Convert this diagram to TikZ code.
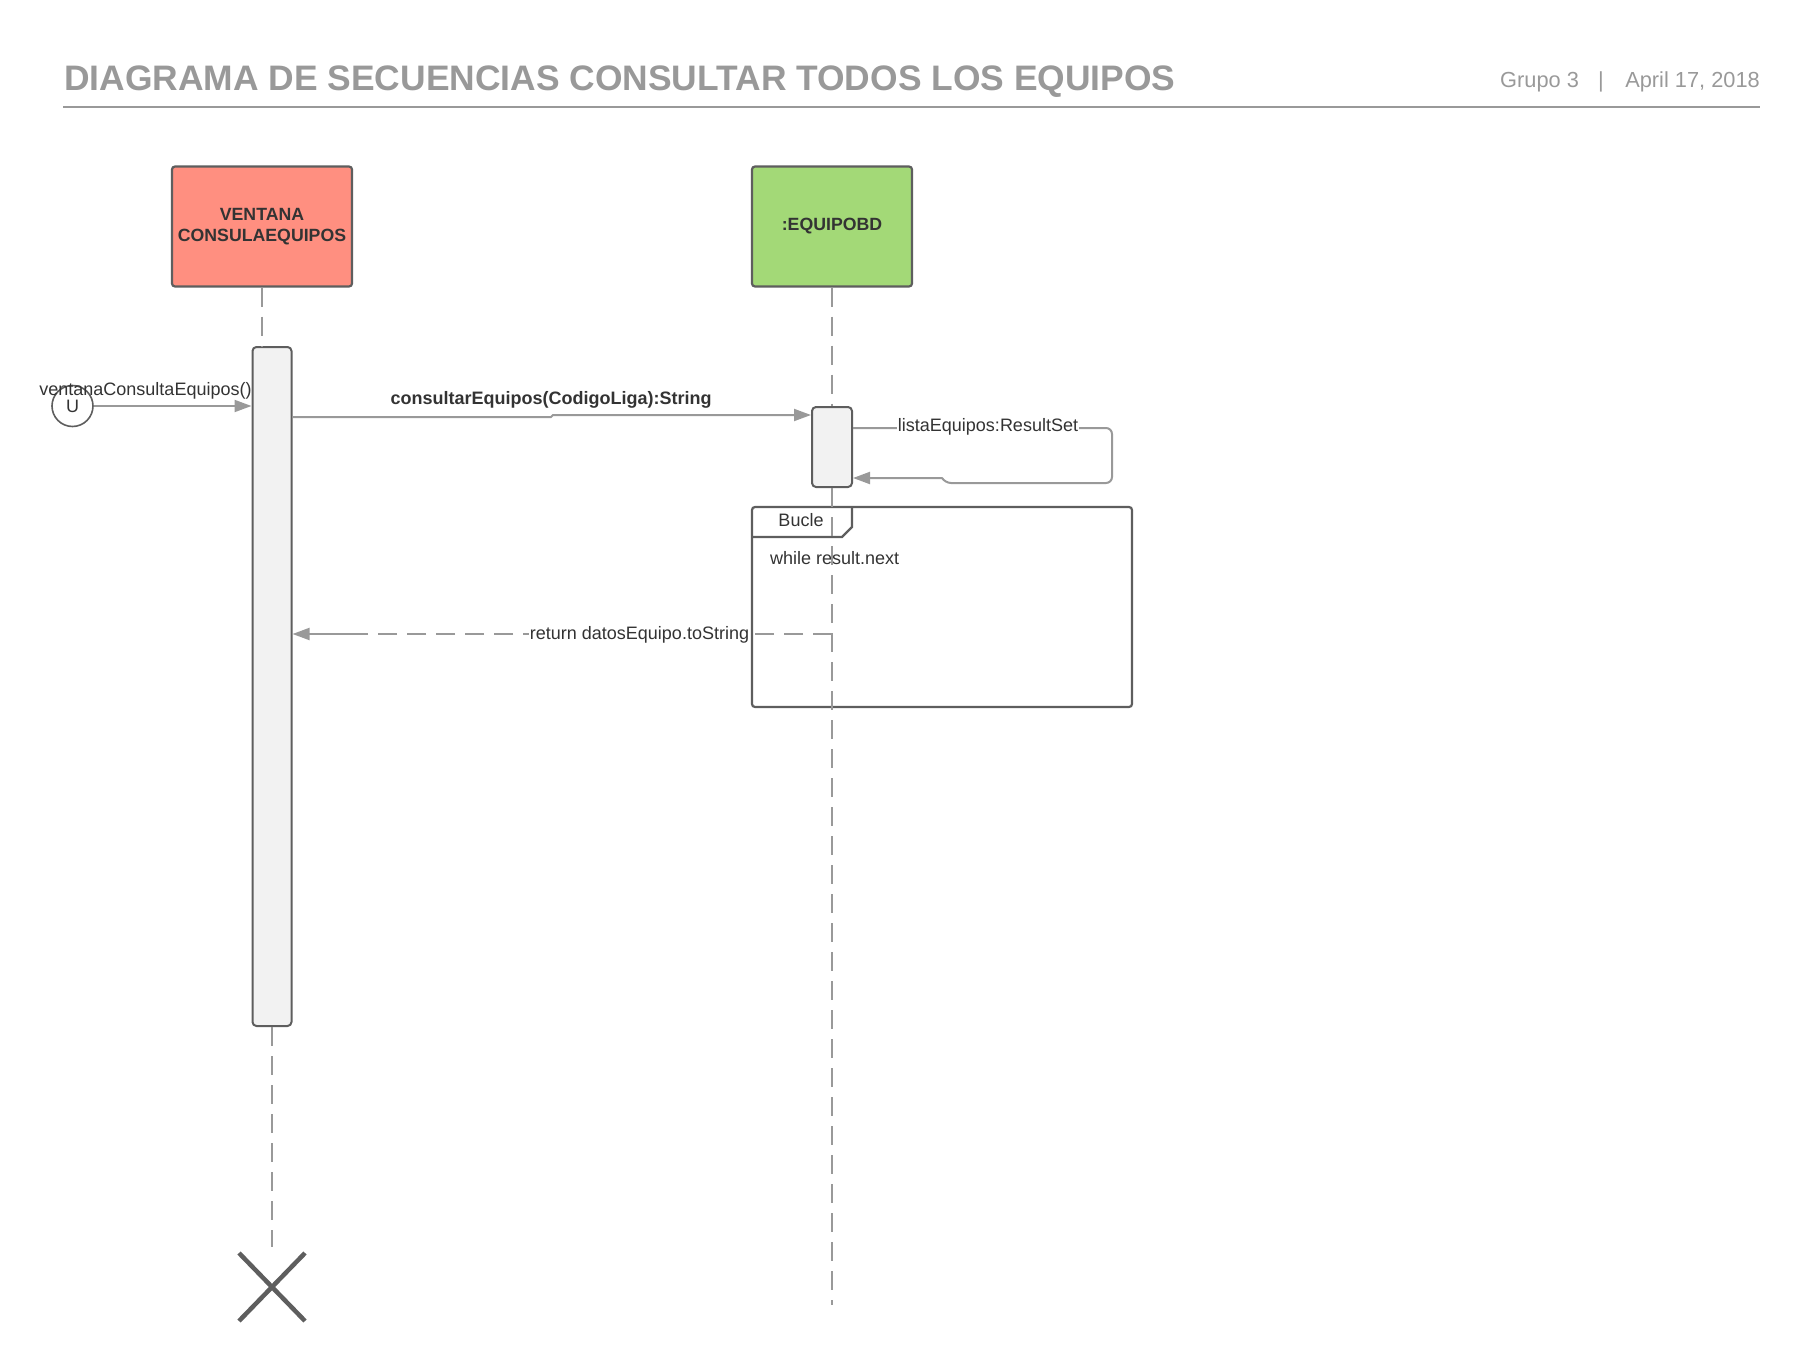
\documentclass[tikz,border=0pt]{standalone}
\usepackage{fontspec}
\setmainfont{Liberation Sans}
\usetikzlibrary{arrows.meta}
\definecolor{ttlgray}{HTML}{999999}
\definecolor{lngray}{HTML}{999999}
\definecolor{bordergray}{HTML}{5E5E5E}
\definecolor{txtdark}{HTML}{333333}
\definecolor{redfill}{HTML}{FF8F80}
\definecolor{greenfill}{HTML}{A3D977}
\definecolor{actfill}{HTML}{F2F2F2}
\tikzset{
  actorbox/.style={draw=bordergray, line width=2.2pt, rounded corners=3pt, inner sep=0pt,
    text=txtdark, align=center, font=\fontsize{17.7}{21}\selectfont\bfseries},
  actbox/.style={draw=bordergray, line width=2pt, rounded corners=4pt, fill=actfill, inner sep=0pt},
  lifeline/.style={draw=lngray, line width=2pt, dash pattern=on 19pt off 10pt},
  msg/.style={draw=lngray, line width=2pt, -{Triangle[length=17pt,width=12pt]}, fill=none},
  retline/.style={draw=lngray, line width=2pt, dash pattern=on 19pt off 10pt},
  msglabel/.style={text=txtdark, inner sep=1pt, font=\fontsize{18}{21}\selectfont},
  framebox/.style={draw=bordergray, line width=2.2pt},
}
\begin{document}
\begin{tikzpicture}[x=1pt,y=-1pt]
\useasboundingbox (0,0) rectangle (1800,1367);
% header
\node[anchor=base west, inner sep=0pt, text=ttlgray, font=\fontsize{35.4}{40}\selectfont\bfseries] (title) at (64,90.5) {DIAGRAMA DE SECUENCIAS CONSULTAR TODOS LOS EQUIPOS};
\node[anchor=base west, inner sep=0pt, text=ttlgray, font=\fontsize{21.8}{25}\selectfont] (grupo) at (1500,87.8) {Grupo 3};
\node[anchor=base, inner sep=0pt, text=ttlgray, font=\fontsize{21.8}{25}\selectfont] (bar) at (1601,87.8) {|};
\node[anchor=base east, inner sep=0pt, text=ttlgray, font=\fontsize{21.8}{25}\selectfont] (date) at (1760,87.8) {April 17, 2018};
\coordinate (hl) at (63,107);
\coordinate (hr) at (1760,107);
\draw[draw=ttlgray, line width=2pt] (hl) -- (hr);

% actors
\node[actorbox, fill=redfill, minimum width=180pt, minimum height=120pt] (ventana) at (262,226.5) {VENTANA\\CONSULAEQUIPOS};
\node[actorbox, fill=greenfill, minimum width=160pt, minimum height=120pt] (equipo) at (832,226.5) {:EQUIPOBD};

% frame (drawn below the lifeline)
\coordinate (frtl) at (752,507);
\coordinate (frbr) at (1132,707);
\draw[framebox, rounded corners=3pt] (frtl) rectangle (frbr);
\coordinate (tab1) at (752,537);
\coordinate (tab2) at (842,537);
\coordinate (tab3) at (852,527);
\coordinate (tab4) at (852,507);
\draw[framebox] (tab1) -- (tab2) -- (tab3) -- (tab4);
\node[msglabel] (bucle) at (801,520) {Bucle};
\node[msglabel, anchor=west, inner sep=0pt] (cond) at (770,558) {while result.next};

% activations
\node[actbox, minimum width=39pt, minimum height=679pt] (actA) at (272,686.5) {};
\node[actbox, minimum width=40pt, minimum height=80pt] (actB) at (832,447) {};

% lifelines
\draw[lifeline] (ventana.south) -- (ventana.south |- actA.north);
\coordinate (xtop) at (272,1247);
\draw[lifeline] (actA.south) -- (xtop);
\draw[lifeline] (equipo.south) -- (actB.north);
\coordinate (eqend) at (832,1305);
\draw[lifeline] (actB.south) -- (eqend);

% destruction mark
\coordinate (xc) at (272,1287);
\draw[draw=bordergray, line width=4.5pt] ([shift={(-33,-34)}]xc) -- ([shift={(33,34)}]xc);
\draw[draw=bordergray, line width=4.5pt] ([shift={(-33,34)}]xc) -- ([shift={(33,-34)}]xc);

% found message
\node[circle, draw=bordergray, line width=1.6pt, minimum size=41pt, inner sep=0pt, text=txtdark, font=\fontsize{18}{21}\selectfont] (u) at (72.5,406) {U};
\draw[msg] (u.east) -- (actA.west |- u.east);
\node[msglabel] (l1) at (145.5,391) {ventanaConsultaEquipos()};

% call message
\coordinate (m2a) at (551,417);
\coordinate (m2b) at (553,415);
\draw[msg] (actA.east |- m2a) -- (m2a) -- (m2b) -- (actB.west |- m2b);
\node[msglabel, font=\fontsize{18}{21}\selectfont\bfseries] (l2) at (551,400) {consultarEquipos(CodigoLiga):String};

% self message
\coordinate (s1) at (1112,428);
\coordinate (s2) at (1112,483);
\coordinate (s3) at (945,483);
\coordinate (s4) at (942,478);
\draw[msg] (actB.east |- s1) [rounded corners=6pt] -- (s1) -- (s2) -- (s3) [sharp corners] -- (s4) -- (actB.east |- s4);
\node[msglabel, fill=white] (l3) at (988,427) {listaEquipos:ResultSet};

% return message
\coordinate (r0) at (832,634);
\coordinate (r1) at (362,634);
\draw[retline] (r0) -- (r1);
\draw[msg] (r1) -- (actA.east |- r1);
\node[msglabel, fill=white] (l4) at (639.5,634.5) {return datosEquipo.toString};
\end{tikzpicture}
\end{document}
